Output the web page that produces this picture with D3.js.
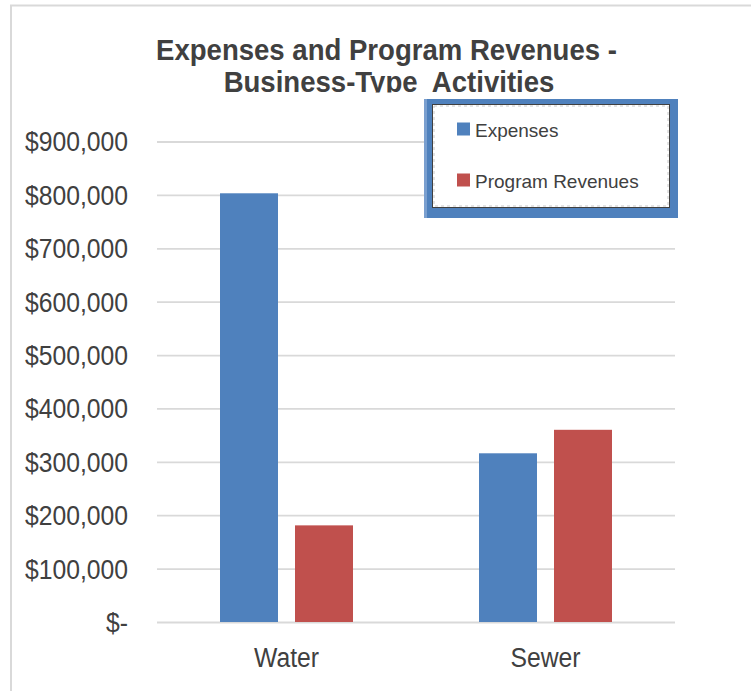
<!DOCTYPE html>
<html>
<head>
<meta charset="utf-8">
<script src="https://cdn.jsdelivr.net/npm/d3@7/dist/d3.min.js"></script>
<style>
  html, body { margin: 0; padding: 0; background: #fff; }
  svg { display: block; font-family: "Liberation Sans", Arial, sans-serif; }
</style>
</head>
<body>
<svg id="chart" width="751" height="691"></svg>
<script>
// Business-type activities
const categories = ["Water", "Sewer"];
const seriesNames = ["Expenses", "Program Revenues"];
const expenses = [803000, 316000];
const programRevenues = [181000, 360000];
const yTickValues = [0, 100000, 200000, 300000, 400000, 500000, 600000, 700000, 800000, 900000];
const titleLines = ["Expenses and Program Revenues -", "Business-Type  Activities"];

const seriesValues = [expenses, programRevenues];
const colors = ["#4f81bd", "#c0504d"];
const textColor = "#404040";

const svg = d3.select("#chart");
const plot = { left: 157, right: 675, top: 141.5, bottom: 622 };

// Outer chart frame (left and top edges)
svg.append("path")
  .attr("d", "M11,691 V5.5 H751")
  .attr("fill", "none")
  .attr("stroke", "#d9d9d9")
  .attr("stroke-width", 2);

// Narrow the rendered glyph runs to a condensed look
function condense(sel, factor) {
  sel.each(function () {
    const w = this.getComputedTextLength();
    d3.select(this).attr("textLength", w * factor).attr("lengthAdjust", "spacingAndGlyphs");
  });
}

// Scales
const y = d3.scaleLinear().domain([0, 900000]).range([plot.bottom, plot.top]);
const x0 = d3.scaleBand().domain(categories).range([plot.left, plot.right]).padding(0);
const x1 = d3.scaleBand().domain(seriesNames).range([0, x0.bandwidth()])
  .paddingInner(0.2267).paddingOuter(0.84);

// Gridlines
const grid = svg.append("g")
  .attr("transform", `translate(${plot.left},0)`)
  .call(d3.axisLeft(y).tickValues(yTickValues).tickSize(-(plot.right - plot.left)).tickFormat(""));
grid.select(".domain").remove();
grid.selectAll("line").attr("stroke", "#d9d9d9").attr("stroke-width", 1.8);

// Y axis labels (accounting style: zero shown as "$-")
const fmt = d3.format("$,");
const yAxis = svg.append("g")
  .attr("transform", `translate(${plot.left},0)`)
  .call(d3.axisLeft(y).tickValues(yTickValues).tickSize(0).tickPadding(29)
    .tickFormat(d => d === 0 ? "$-" : fmt(d)));
yAxis.select(".domain").remove();
yAxis.selectAll("text")
  .attr("font-family", "'Liberation Sans', Arial, sans-serif")
  .attr("font-size", 27).attr("fill", textColor).attr("dy", "0.35em");
condense(yAxis.selectAll("text"), 0.915);

// Bars
const groups = svg.append("g").selectAll("g")
  .data(categories)
  .join("g")
  .attr("transform", d => `translate(${x0(d)},0)`);
groups.selectAll("rect")
  .data((c, ci) => seriesNames.map((s, si) => ({ s, si, v: seriesValues[si][ci] })))
  .join("rect")
  .attr("x", d => x1(d.s))
  .attr("width", x1.bandwidth())
  .attr("y", d => y(d.v))
  .attr("height", d => y(0) - y(d.v))
  .attr("fill", d => colors[d.si]);

// Category axis
const xAxis = svg.append("g")
  .attr("transform", `translate(0,${plot.bottom})`)
  .call(d3.axisBottom(x0).tickSize(0).tickPadding(26));
xAxis.select(".domain").remove();
xAxis.selectAll("text")
  .attr("font-family", "'Liberation Sans', Arial, sans-serif")
  .attr("font-size", 27).attr("fill", textColor);
condense(xAxis.selectAll("text"), 0.915);

// Title, clipped at the bottom of its box
svg.append("clipPath").attr("id", "titleClip")
  .append("rect").attr("x", 0).attr("y", 0).attr("width", 751).attr("height", 92.5);
const title = svg.append("g").attr("clip-path", "url(#titleClip)");
const titleText = title.selectAll("text")
  .data(titleLines)
  .join("text")
  .attr("x", (d, i) => i === 0 ? 386.5 : 389)
  .attr("y", (d, i) => 59.5 + i * 32)
  .attr("text-anchor", "middle")
  .attr("font-weight", "bold")
  .attr("font-size", 29)
  .attr("fill", textColor)
  .style("white-space", "pre")
  .text(d => d);
condense(titleText, 0.95);

// Legend
const legend = svg.append("g");
legend.append("rect")
  .attr("x", 424).attr("y", 99).attr("width", 254).attr("height", 119)
  .attr("fill", "#4f81bd");
legend.append("rect")
  .attr("x", 424).attr("y", 99).attr("width", 3).attr("height", 119)
  .attr("fill", "#7a9fcf");
legend.append("rect")
  .attr("x", 432.5).attr("y", 104.5).attr("width", 237).attr("height", 103)
  .attr("fill", "#fff").attr("stroke", "#404040").attr("stroke-width", 1);
legend.append("rect")
  .attr("x", 434).attr("y", 106).attr("width", 234).attr("height", 100)
  .attr("fill", "none").attr("stroke", "#c8c8c8").attr("stroke-width", 1)
  .attr("stroke-dasharray", "3,3");

const items = legend.selectAll("g.item")
  .data(seriesNames)
  .join("g")
  .attr("class", "item")
  .attr("transform", (d, i) => `translate(457,${122.5 + i * 51})`);
items.append("rect")
  .attr("width", 13).attr("height", 13)
  .attr("fill", (d, i) => colors[i]);
items.append("text")
  .attr("x", 18).attr("y", 14)
  .attr("font-size", 19)
  .attr("fill", textColor)
  .text(d => d);
</script>
</body>
</html>
